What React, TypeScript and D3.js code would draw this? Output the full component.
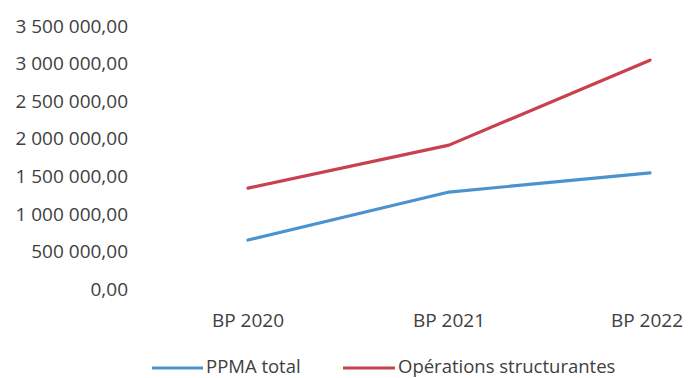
import React from "react";
import * as d3 from "d3";

const categories = ["BP 2020", "BP 2021", "BP 2022"];
const ppmaTotal = [652000, 1290000, 1545000];
const operationsStructurantes = [1343000, 1915000, 3045000];
const yTicks = [0, 500000, 1000000, 1500000, 2000000, 2500000, 3000000, 3500000];
const seriesNames = ["PPMA total", "Opérations structurantes"];
const seriesColors = ["#4b93cf", "#c9404f"];

const W = 688;
const H = 378;
const FONT = "'Open Sans', 'DejaVu Sans', sans-serif";
const FS = 19;

function fmt(v: number): string {
  const s = Math.round(v).toString().replace(/\B(?=(\d{3})+(?!\d))/g, " ");
  return s + ",00";
}

export default function App() {
  const y = d3.scaleLinear().domain([0, 3500000]).range([289, 26]);
  const x = d3.scalePoint<string>().domain(categories).range([248, 650]);
  const line = d3
    .line<number>()
    .x((_, i) => x(categories[i]) as number)
    .y((d) => y(d));
  const series = [ppmaTotal, operationsStructurantes];

  return (
    <svg
      width={W}
      height={H}
      style={{ position: "absolute", left: 0, top: 0, background: "#fff" }}
    >
      <rect width={W} height={H} fill="#fff" />
      {yTicks.map((t) => (
        <text
          key={t}
          x={128}
          y={y(t)}
          dy="0.35em"
          textAnchor="end"
          fontFamily={FONT}
          fontSize={FS}
          fill="#404040"
        >
          {fmt(t)}
        </text>
      ))}
      {categories.map((c) => (
        <text
          key={c}
          x={Math.min(x(c) as number, 647)}
          y={320}
          dy="0.35em"
          textAnchor="middle"
          fontFamily={FONT}
          fontSize={FS}
          fill="#404040"
        >
          {c}
        </text>
      ))}
      {series.map((s, i) => (
        <path
          key={i}
          d={line(s) as string}
          fill="none"
          stroke={seriesColors[i]}
          strokeWidth={3.2}
          strokeLinejoin="round"
          strokeLinecap="round"
        />
      ))}
      {[
        { x0: 152, x1: 203, tx: 206 },
        { x0: 343, x1: 395, tx: 398 },
      ].map((l, i) => (
        <g key={i}>
          <line
            x1={l.x0}
            x2={l.x1}
            y1={368}
            y2={368}
            stroke={seriesColors[i]}
            strokeWidth={3.2}
          />
          <text
            x={l.tx}
            y={366.5}
            dy="0.35em"
            fontFamily={FONT}
            fontSize={18.5}
            fill="#404040"
          >
            {seriesNames[i]}
          </text>
        </g>
      ))}
    </svg>
  );
}
